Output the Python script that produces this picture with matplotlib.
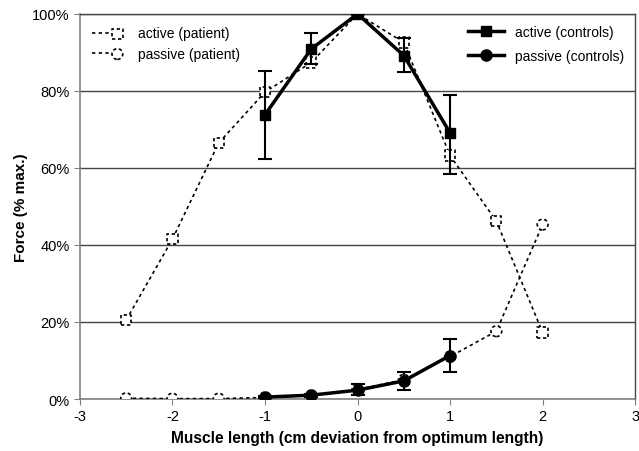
import numpy as np
import matplotlib.pyplot as plt
from matplotlib.legend_handler import HandlerTuple

plt.rcParams['font.family'] = ['Liberation Sans', 'DejaVu Sans']

# ---------------- data ----------------
x_pat = [-2.5, -2, -1.5, -1, -0.5, 0, 0.5, 1, 1.5, 2]
act_pat = [20.5, 41.5, 66.5, 79.7, 87.4, 100, 92.6, 63.2, 46.2, 17.3]
pas_pat = [0.2, 0.1, 0.1, 0.4, 0.9, 2.5, 5.0, 11.0, 17.6, 45.3]

x_ctl = [-1, -0.5, 0, 0.5, 1]
act_ctl = [73.8, 90.9, 100, 89.2, 69.1]
act_err_up = [11.3, 4.1, 0, 4.5, 9.9]
act_err_lo = [11.5, 3.9, 0, 4.3, 10.7]
pas_ctl = [0.5, 1.0, 2.3, 4.7, 11.3]
pas_err_up = [0.3, 0.4, 1.7, 2.3, 4.3]
pas_err_lo = [0.3, 0.4, 1.3, 2.3, 4.3]

xticks = [-3, -2, -1, 0, 1, 2, 3]
yticks = [0, 20, 40, 60, 80, 100]

# ---------------- plot ----------------
fig = plt.figure(figsize=(6.39, 4.52), dpi=100)
ax = fig.add_axes([0.125, 0.115, 0.869, 0.852])

dash = (0, (2, 1.6))

# patient curves (dotted line + dashed-edge open markers)
l1, = ax.plot(x_pat, act_pat, color='k', lw=1.2, linestyle=(0, (2, 2)), zorder=3)
s1 = ax.scatter(x_pat, act_pat, marker='s', s=55, facecolors='white',
                edgecolors='k', linewidths=1.2, linestyles=dash, zorder=4)
l2, = ax.plot(x_pat, pas_pat, color='k', lw=1.2, linestyle=(0, (2, 2)), zorder=3)
s2 = ax.scatter(x_pat, pas_pat, marker='o', s=60, facecolors='white',
                edgecolors='k', linewidths=1.2, linestyles=dash, zorder=4)

# controls with error bars
e1 = ax.errorbar(x_ctl, act_ctl, yerr=[act_err_lo, act_err_up], color='k',
                 lw=2.5, marker='s', ms=7.5, elinewidth=1.5, capsize=5,
                 capthick=1.5, zorder=5)
e2 = ax.errorbar(x_ctl, pas_ctl, yerr=[pas_err_lo, pas_err_up], color='k',
                 lw=2.5, marker='o', ms=8, elinewidth=1.5, capsize=5,
                 capthick=1.5, zorder=5)

ax.set_xlim(-3, 3)
ax.set_ylim(0, 100)
ax.set_xticks(xticks)
ax.set_xticklabels([str(v) for v in xticks])
ax.set_yticks(yticks)
ax.set_yticklabels(['%d%%' % v for v in yticks])
ax.tick_params(axis='both', labelsize=10.5, length=4, color='#808080',
               direction='out')
ax.yaxis.grid(True, color='#454545', lw=1)
ax.set_axisbelow(True)

for side in ['left', 'bottom']:
    ax.spines[side].set_color('#808080')
    ax.spines[side].set_linewidth(1.2)
for side in ['top', 'right']:
    ax.spines[side].set_color('#454545')
    ax.spines[side].set_linewidth(1)

ax.set_xlabel('Muscle length (cm deviation from optimum length)',
              fontsize=11.2, fontweight='bold', labelpad=5)
ax.set_ylabel('Force (% max.)', fontsize=11, fontweight='bold', labelpad=3)

leg1 = ax.legend([(l1, s1), (l2, s2)], ['active (patient)', 'passive (patient)'],
                 handler_map={tuple: HandlerTuple(ndivide=None, pad=0)},
                 loc='upper left', frameon=False, fontsize=10,
                 handlelength=2.4, handletextpad=0.9, borderaxespad=0.5,
                 labelspacing=0.45)
ax.add_artist(leg1)
# legend for controls: line + marker only (no error bar glyph)
ax.legend([e1.lines[0], e2.lines[0]], ['active (controls)', 'passive (controls)'],
          loc='upper right', frameon=False, fontsize=10,
          handlelength=2.6, handletextpad=0.8, borderaxespad=0.4,
          labelspacing=0.7)

fig.savefig('out.png', dpi=100)
